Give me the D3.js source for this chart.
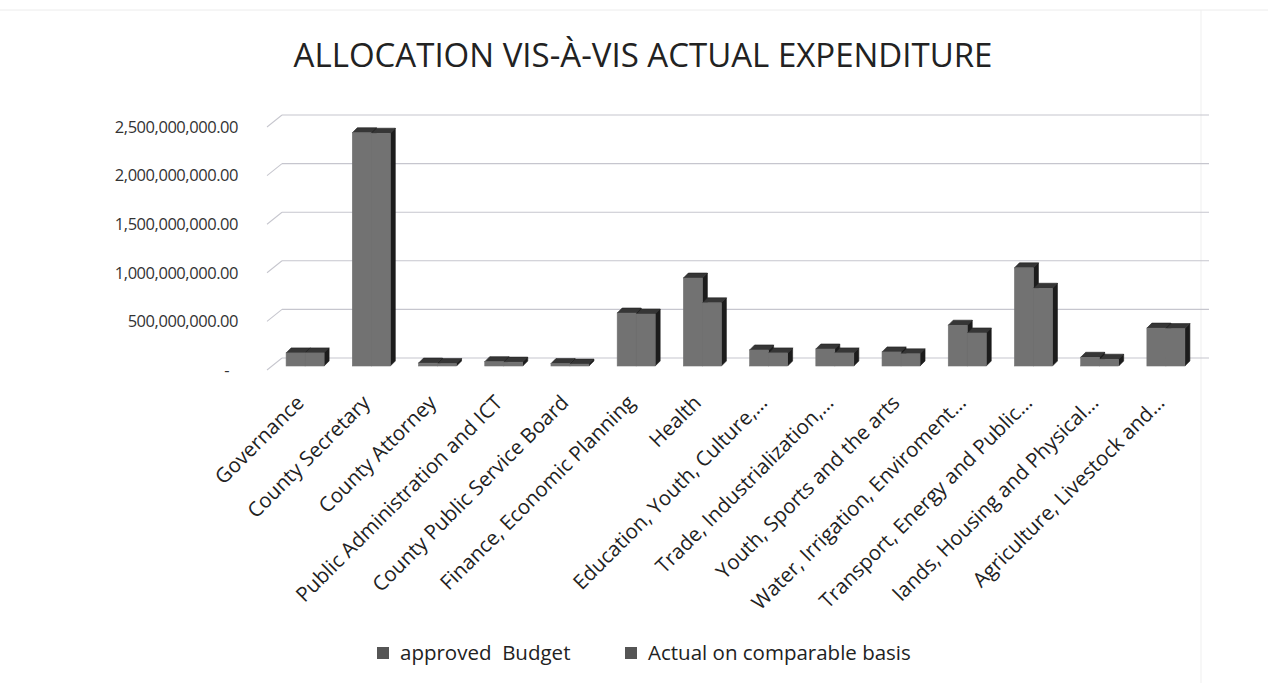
<!DOCTYPE html>
<html>
<head>
<meta charset="utf-8">
<script src="https://cdn.jsdelivr.net/npm/d3@7"></script>
<style>
  html, body { margin: 0; padding: 0; background: #fff; }
  svg { display: block; font-family: "Open Sans", "Noto Sans", sans-serif; }
</style>
</head>
<body>
<div id="chart"></div>
<script>
// Data
const categories = [
    "Governance",
    "County Secretary",
    "County Attorney",
    "Public Administration and ICT",
    "County Public Service Board",
    "Finance, Economic Planning",
    "Health",
    "Education, Youth, Culture,…",
    "Trade, Industrialization,…",
    "Youth, Sports and the arts",
    "Water, Irrigation, Enviroment…",
    "Transport, Energy and Public…",
    "lands, Housing and Physical…",
    "Agriculture, Livestock and…"
];
const approvedBudget = [135e6, 2400e6, 30e6, 45e6, 25e6, 545e6, 905e6, 165e6, 175e6, 145e6, 420e6, 1010e6, 90e6, 390e6];
const actualSpend    = [135e6, 2395e6, 25e6, 40e6, 20e6, 535e6, 650e6, 135e6, 135e6, 125e6, 340e6, 800e6, 70e6, 385e6];
const seriesNames = ["approved  Budget", "Actual on comparable basis"];
const yTicks = [0, 500e6, 1000e6, 1500e6, 2000e6, 2500e6];

const W = 1268, H = 683;
const svg = d3.select("#chart").append("svg")
    .attr("width", W)
    .attr("height", H);

// faint page edges from the scan
svg.append("line").attr("x1", 0).attr("x2", W).attr("y1", 10).attr("y2", 10)
    .attr("stroke", "#ececec");
svg.append("line").attr("x1", 1201).attr("x2", 1201).attr("y1", 10).attr("y2", H)
    .attr("stroke", "#efefef");

// Title
svg.append("text")
    .attr("x", 643).attr("y", 67)
    .attr("text-anchor", "middle")
    .attr("font-size", 33)
    .attr("fill", "#222")
    .text("ALLOCATION VIS-À-VIS ACTUAL EXPENDITURE");

// Scales
const x = d3.scaleBand()
    .domain(categories)
    .range([272, 1199])
    .paddingInner(0.426)
    .paddingOuter(0.213);
const xs = d3.scaleBand()
    .domain(["approved", "actual"])
    .range([0, x.bandwidth()]);
const y = d3.scaleLinear().domain([0, 2500e6]).range([358, 115]);

// wall depth and bar depth (pseudo 3D)
const wallDx = 15, wallDy = -12;
const barDx = 5, barDy = -5;
const barShift = 8; // bar floor sits a bit in front of back wall

// Gridlines on back wall + diagonal on the side wall
const grid = svg.append("g").attr("class", "grid");
grid.selectAll("line.back")
    .data(yTicks)
    .join("line")
    .attr("class", "back")
    .attr("x1", 267 + wallDx).attr("x2", 1209)
    .attr("y1", d => y(d)).attr("y2", d => y(d))
    .attr("stroke", "#c6c6ce").attr("stroke-width", 1.1);
grid.selectAll("line.side")
    .data(yTicks)
    .join("line")
    .attr("class", "side")
    .attr("x1", 267).attr("x2", 267 + wallDx)
    .attr("y1", d => y(d) - wallDy).attr("y2", d => y(d))
    .attr("stroke", "#c6c6ce").attr("stroke-width", 1.1);

// Y axis labels
const fmt = d3.format(",.2f");
svg.append("g").selectAll("text")
    .data(yTicks)
    .join("text")
    .attr("x", d => d === 0 ? 229 : 238)
    .attr("y", d => y(d) - wallDy)
    .attr("dy", "0.35em")
    .attr("text-anchor", "end")
    .attr("font-size", 16.5)
    .attr("letter-spacing", -0.45)
    .attr("fill", "#333")
    .text(d => d === 0 ? "-" : fmt(d));

// Bars
const rows = categories.map((c, i) => ({
    cat: c,
    vals: [
        { key: "approved", v: approvedBudget[i] },
        { key: "actual", v: actualSpend[i] }
    ]
}));

function drawBar(g, x0, w, v) {
    const y0 = y(0) + barShift;
    const y1 = y(v) + barShift;
    // side face
    g.append("path")
        .attr("d", `M${x0 + w},${y1}L${x0 + w + barDx},${y1 + barDy}L${x0 + w + barDx},${y0 + barDy}L${x0 + w},${y0}Z`)
        .attr("fill", "#1c1c1c").attr("stroke", "#1c1c1c").attr("stroke-width", 0.6);
    // top face
    g.append("path")
        .attr("d", `M${x0},${y1}L${x0 + barDx},${y1 + barDy}L${x0 + w + barDx},${y1 + barDy}L${x0 + w},${y1}Z`)
        .attr("fill", "#363636").attr("stroke", "#222").attr("stroke-width", 0.6);
    // front face
    g.append("rect")
        .attr("x", x0).attr("y", y1)
        .attr("width", w).attr("height", y0 - y1)
        .attr("fill", "#727272").attr("stroke", "#727272").attr("stroke-width", 0.6);
}

const barsG = svg.append("g").attr("class", "bars");
rows.forEach(r => {
    const g = barsG.append("g");
    r.vals.forEach(d => drawBar(g, x(r.cat) + xs(d.key), xs.bandwidth(), d.v));
});

// X labels rotated
svg.append("g").selectAll("text")
    .data(categories)
    .join("text")
    .attr("text-anchor", "end")
    .attr("font-size", 20.5)
    .attr("fill", "#222")
    .attr("transform", d => `translate(${x(d) + x.bandwidth() / 2},${404}) rotate(-45)`)
    .text(d => d);

// Legend
const legend = svg.append("g");
const legendPos = [377, 625];
seriesNames.forEach((s, i) => {
    legend.append("rect")
        .attr("x", legendPos[i]).attr("y", 647)
        .attr("width", 12).attr("height", 12)
        .attr("fill", "#555");
    legend.append("text")
        .attr("x", legendPos[i] + 23).attr("y", 653)
        .attr("dy", "0.35em")
        .attr("font-size", 20.5)
        .attr("fill", "#222")
        .attr("xml:space", "preserve")
        .style("white-space", "pre")
        .text(s);
});
</script>
</body>
</html>
